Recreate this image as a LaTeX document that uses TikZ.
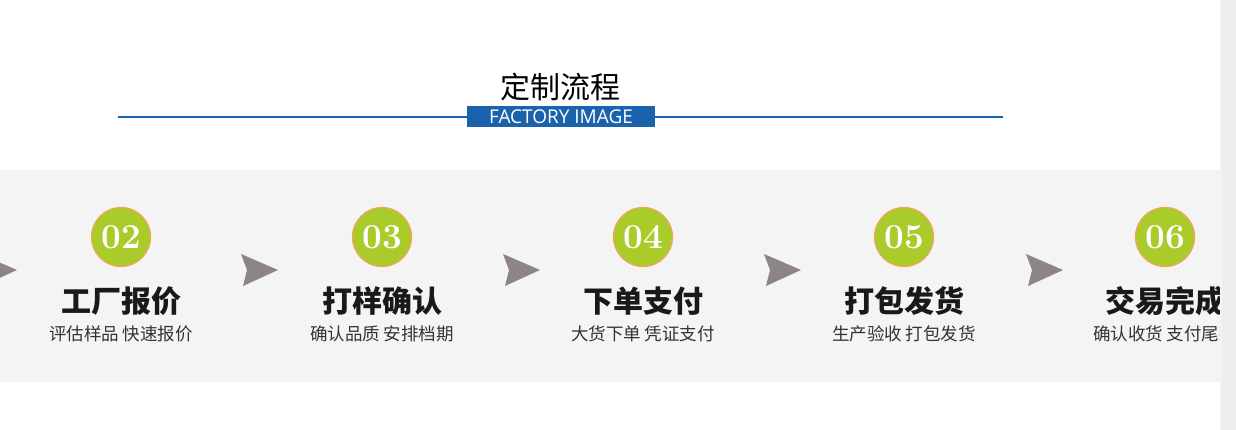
\documentclass[tikz,border=0pt]{standalone}
\usepackage{fontspec}
\newfontfamily\cjk{Noto Sans CJK SC}
\newfontfamily\latinsans{Open Sans}
\definecolor{band}{HTML}{F4F4F4}
\definecolor{blueline}{HTML}{1B62AC}
\definecolor{greenc}{HTML}{A9CC2A}
\definecolor{orangec}{HTML}{F2A55A}
\definecolor{arrowgray}{HTML}{8C8485}
\definecolor{subgray}{HTML}{333333}
\definecolor{panel}{HTML}{EDEDED}
\tikzset{
  numcircle/.style={circle, fill=greenc, draw=orangec, line width=1.2pt, minimum size=59pt, inner sep=0pt, text=white, font=\bfseries\fontsize{35}{35}\selectfont},
  steptitle/.style={font=\cjk\bfseries\fontsize{30}{32}\selectfont, text=black!90, inner sep=0pt},
  stepsub/.style={font=\cjk\fontsize{17.5}{19}\selectfont, text=subgray, inner sep=0pt},
  chevron/.style={fill=arrowgray, draw=none},
}
\begin{document}
\begin{tikzpicture}[x=1pt,y=-1pt]
\useasboundingbox (0,0) rectangle (1236,430);
\fill[white] (0,0) rectangle (1236,430);
% header
\node[font=\cjk\fontsize{30}{31}\selectfont, inner sep=0pt] (title) at (560,87) {定制流程};
\draw[blueline, line width=2pt] (118,117) -- (1003,117);
\node[fill=blueline, minimum width=188pt, minimum height=21pt, inner sep=0pt, text=white, font=\latinsans\fontsize{19}{19}\selectfont] (sub) at (561,116.5) {FACTORY IMAGE};
% band and steps
\begin{scope}
\clip (0,0) rectangle (1222,430);
\fill[band] (0,170) rectangle (1236,382);
\foreach \cx/\num/\ttl/\sbt [count=\i] in {121/02/工厂报价/评估样品 快速报价, 382/03/打样确认/确认品质 安排档期, 643/04/下单支付/大货下单 凭证支付, 904/05/打包发货/生产验收 打包发货, 1165/06/交易完成/确认收货 支付尾款}{
  \node[numcircle] (c\i) at (\cx,237) {\num};
  \node[steptitle] (t\i) at (\cx,301) {\ttl};
  \node[stepsub] (s\i) at (\cx,334) {\sbt};
}
\foreach \ax in {-20,241,503,764,1026}{
  \fill[chevron] (\ax,254) -- (\ax+37,270) -- (\ax+2,286) -- (\ax+6,270) -- cycle;
}
\end{scope}
% right side panel
\shade[left color=band, right color=panel] (1220,0) rectangle (1223,430);
\fill[panel] (1223,0) rectangle (1236,430);
\end{tikzpicture}
\end{document}
